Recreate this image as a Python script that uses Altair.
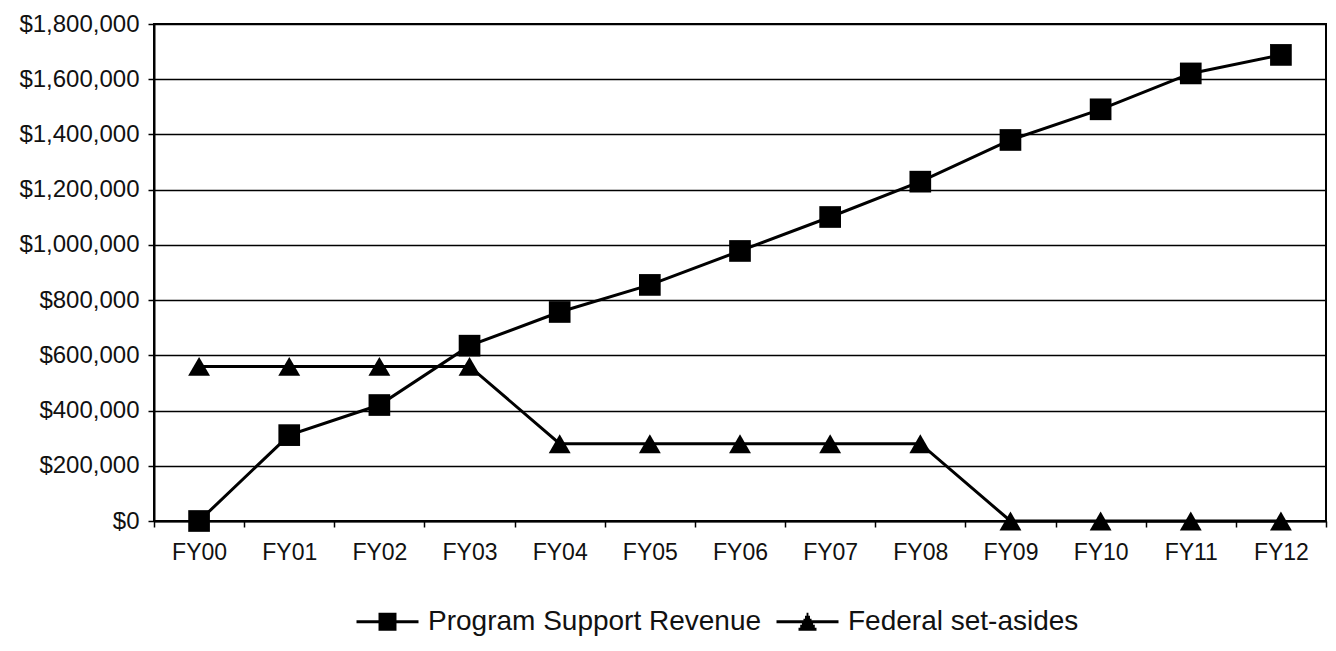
import altair as alt
import pandas as pd

years = ["FY00", "FY01", "FY02", "FY03", "FY04", "FY05", "FY06",
         "FY07", "FY08", "FY09", "FY10", "FY11", "FY12"]
program_support = [0, 311000, 420000, 635000, 757000, 855000, 978000,
                   1101000, 1229000, 1380000, 1491000, 1621000, 1688000]
federal_set_asides = [560000, 560000, 560000, 560000, 280000, 280000, 280000,
                      280000, 280000, 0, 0, 0, 0]
series_names = ["Program Support Revenue", "Federal set-asides"]
y_ticks = [0, 200000, 400000, 600000, 800000, 1000000, 1200000, 1400000,
           1600000, 1800000]

rows = []
for name, vals in zip(series_names, [program_support, federal_set_asides]):
    for yr, v in zip(years, vals):
        rows.append({"year": yr, "value": v, "series": name})
df = pd.DataFrame(rows)

FONT = "Liberation Sans"

x_enc = alt.X(
    "year:N", sort=years,
    scale=alt.Scale(type="band", paddingInner=0, paddingOuter=0),
    axis=alt.Axis(title=None, labelAngle=0, tickBand="extent", grid=False,
                  labelFontSize=23, labelFont=FONT, labelColor="#111",
                  labelPadding=14, tickSize=6, tickColor="black",
                  tickWidth=1.5, domainColor="black", domainWidth=2),
)
y_enc = alt.Y(
    "value:Q",
    scale=alt.Scale(domain=[0, 1800000], nice=False),
    axis=alt.Axis(title=None, values=y_ticks, format="$,.0f",
                  labelFontSize=24, labelFont=FONT, labelColor="#111",
                  labelPadding=9, tickSize=6, tickColor="black",
                  tickWidth=1.5, grid=True, gridColor="black",
                  gridWidth=1.6, domainColor="black", domainWidth=2),
)

base = alt.Chart(df)

lines = base.mark_line(color="black", strokeWidth=3).encode(
    x=x_enc, y=y_enc, detail="series:N"
)

points = base.mark_point(filled=True, color="black", opacity=1).encode(
    x=x_enc, y=y_enc,
    shape=alt.Shape("series:N", legend=None,
                    scale=alt.Scale(domain=series_names,
                                    range=["square", "triangle-up"])),
    size=alt.Size("series:N", legend=None,
                  scale=alt.Scale(domain=series_names, range=[470, 480])),
)

# legend glyphs: a connecting line plus a marker drawn from stroked rows
legend_paths = [
    "M-1,0H1"
    "M-0.29,-0.24H0.29M-0.29,-0.145H0.29M-0.29,-0.05H0.29"
    "M-0.29,0.05H0.29M-0.29,0.145H0.29M-0.29,0.24H0.29",
    "M-1,0H1"
    "M-0.03,-0.24H0.03M-0.08,-0.145H0.08M-0.13,-0.05H0.13"
    "M-0.18,0.05H0.18M-0.235,0.145H0.235M-0.29,0.24H0.29",
]

legend_layer = base.transform_filter("datum.value < -1").mark_point(
    filled=False, color="black", opacity=1, strokeWidth=3
).encode(
    x=x_enc, y=y_enc,
    shape=alt.Shape(
        "series:N",
        scale=alt.Scale(domain=series_names, range=legend_paths),
        legend=alt.Legend(
            title=None, orient="none", direction="horizontal",
            legendX=201, legendY=565,
            labelFontSize=28, labelFont=FONT, labelColor="#111",
            labelLimit=1000,
            symbolSize=3844, symbolStrokeWidth=3,
            symbolStrokeColor="black",
            symbolOpacity=1, labelOffset=8, columnPadding=8,
        ),
    ),
)

chart = alt.layer(lines, points, legend_layer).resolve_scale(
    shape="independent", size="independent"
).properties(
    width=1172, height=497,
    autosize=alt.AutoSizeParams(type="none"),
    padding={"left": 146, "top": 16, "right": 2, "bottom": 120},
    background="white",
).configure_view(stroke="black", strokeWidth=2)

chart.save("out.html", embed_options={"renderer": "svg", "actions": False})
